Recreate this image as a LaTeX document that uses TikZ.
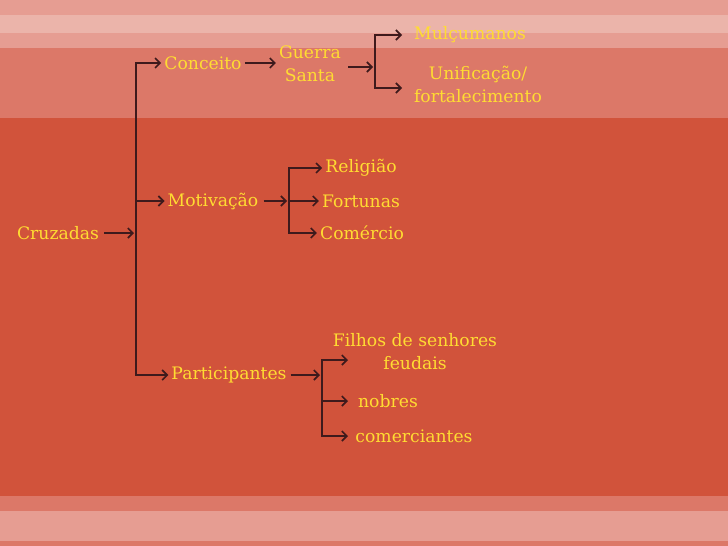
\documentclass[tikz,border=0pt]{standalone}
\usepackage{fontspec}
\setmainfont{DejaVu Serif}
\usetikzlibrary{arrows.meta}
\definecolor{bgmain}{HTML}{D1533B}
\definecolor{bgmid}{HTML}{DC7868}
\definecolor{bgpink}{HTML}{E69D92}
\definecolor{bglight}{HTML}{EBB4AA}
\definecolor{txt}{HTML}{FFDC32}
\definecolor{ln}{HTML}{3E1A1C}
\begin{document}
\begin{tikzpicture}[x=1pt,y=-1pt,
  lbl/.style={text=txt,font=\fontsize{17.2}{23}\selectfont,align=center,inner sep=1pt},
  ln/.style={draw=ln,line width=2pt},
  arr/.style={ln,-{Straight Barb[length=5pt,width=10pt,line width=1.6pt]},shorten >=2pt}]
% background bands
\fill[bgpink] (0,0) rectangle (728,15);
\fill[bglight] (0,15) rectangle (728,33);
\fill[bgpink] (0,33) rectangle (728,48);
\fill[bgmid] (0,48) rectangle (728,118);
\fill[bgmain] (0,118) rectangle (728,496);
\fill[bgmid] (0,496) rectangle (728,511);
\fill[bgpink] (0,511) rectangle (728,541);
\fill[bgmid] (0,541) rectangle (728,546);
\useasboundingbox (0,0) rectangle (728,546);
% nodes
\node[lbl] (cru) at (58,233) {Cruzadas};
\node[lbl] (con) at (203,63) {Conceito};
\node[lbl] (gs) at (310,64) {Guerra\\Santa};
\node[lbl] (mul) at (470,35) {Mulçumanos};
\node[lbl] (uni) at (478,84) {Unificação/\\fortalecimento};
\node[lbl] (mot) at (213,201) {Motivação};
\node[lbl] (rel) at (361,168) {Religião};
\node[lbl] (for) at (361,201) {Fortunas};
\node[lbl] (com) at (362,233) {Comércio};
\node[lbl] (par) at (229,375) {Participantes};
\node[lbl] (fil) at (415,352) {Filhos de senhores\\feudais};
\node[lbl] (nob) at (388,401) {nobres};
\node[lbl] (cme) at (414,436) {comerciantes};
% coordinates
\coordinate (vtop) at (136,63);
\coordinate (vmid) at (136,233);
\coordinate (vbot) at (136,375);
\coordinate (b1) at (375,67);
\coordinate (b1t) at (375,35);
\coordinate (b1b) at (375,88);
\coordinate (b2) at (289,201);
\coordinate (b2t) at (289,168);
\coordinate (b2b) at (289,233);
\coordinate (b3) at (322,375);
\coordinate (b3t) at (322,360);
\coordinate (b3m) at (322,401);
\coordinate (b3b) at (322,436);
\coordinate (e1t) at (404,35);
\coordinate (e1b) at (404,88);
\coordinate (e3t) at (350,360);
\coordinate (e3m) at (350,401);
\coordinate (e3b) at (350,436);
% connectors
\draw[ln] (vtop) -- (vbot);
\draw[arr] ([xshift=4pt]cru.east) -- (vmid);
\draw[arr] ([xshift=-1pt]vtop) -- (con.west);
\draw[arr] (136,201) -- (mot.west);
\draw[arr] ([xshift=-1pt]vbot) -- (par.west);
\draw[arr] ([xshift=2pt]con.east) -- (gs.west |- con.east);
\draw[arr] ([xshift=6pt]gs.east |- b1) -- (b1);
\draw[ln] (b1t) -- (b1b);
\draw[arr] ([xshift=-1pt]b1t) -- (e1t);
\draw[arr] ([xshift=-1pt]b1b) -- (e1b);
\draw[arr] ([xshift=4pt]mot.east) -- (b2);
\draw[ln] (b2t) -- (b2b);
\draw[arr] ([xshift=-1pt]b2t) -- (rel.west);
\draw[arr] (b2) -- (for.west);
\draw[arr] ([xshift=-1pt]b2b) -- (com.west);
\draw[arr] ([xshift=3pt]par.east) -- (b3);
\draw[ln] (b3t) -- (b3b);
\draw[arr] ([xshift=-1pt]b3t) -- (e3t);
\draw[arr] (b3m) -- (e3m);
\draw[arr] ([xshift=-1pt]b3b) -- (e3b);
\end{tikzpicture}
\end{document}
